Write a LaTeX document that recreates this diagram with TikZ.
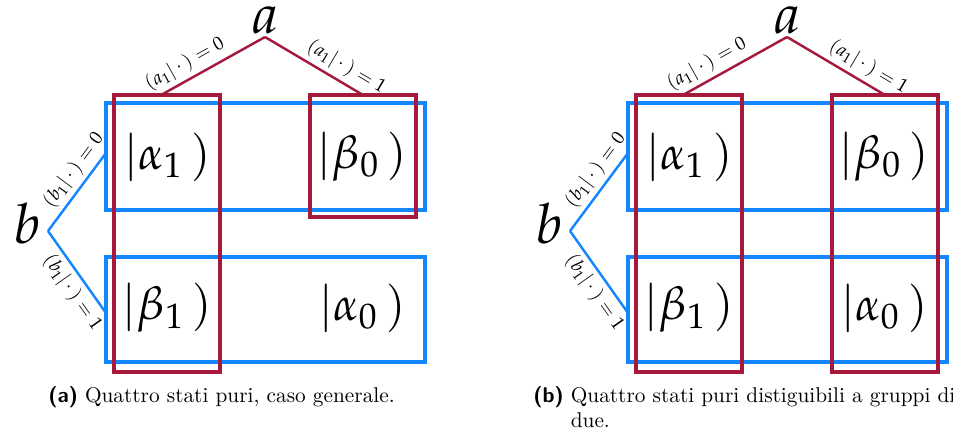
\documentclass[tikz,border=0pt]{standalone}
\usepackage{mathpazo}
\usepackage{fontspec}
\usepackage{xcolor}
\usetikzlibrary{positioning}
\definecolor{branchred}{RGB}{165,25,60}
\definecolor{branchblue}{RGB}{20,135,255}

\begin{document}
\begin{tikzpicture}[
		x=0.45pt,y=-0.45pt,
		red box/.style={draw=branchred,line width=1.8pt},
		blue box/.style={draw=branchblue,line width=1.8pt},
		red branch/.style={draw=branchred,line width=1.1pt},
		blue branch/.style={draw=branchblue,line width=1.1pt},
		ket/.style={font=\fontsize{21}{24}\selectfont,inner sep=0pt},
		party/.style={font=\fontsize{25}{28}\selectfont,inner sep=0pt,anchor=base},
		edge label/.style={font=\fontsize{8.5}{10}\selectfont,sloped,inner sep=2pt},
		caption text/.style={font=\fontsize{9.6}{11.5}\selectfont,inner sep=0pt,anchor=base west,align=left}
	]
		\useasboundingbox (0,0) rectangle (953,434);

		% Both panels share the two measurements and the four states.
		\foreach \p/\dx in {A/0,B/522}{
			\begin{scope}[shift={(\dx,0)}]
				\node[party] (a\p) at (265,33) {$a$};
				\node[party] (b\p) at (27,243) {$b$};
				\coordinate (ra\p) at (265,37);
				\coordinate (rb\p) at (48,231);
				\coordinate (tl\p) at (161,95);
				\coordinate (tr\p) at (363,95);
				\coordinate (bt\p) at (106,153);
				\coordinate (bb\p) at (106,313);

				% Outcomes of b group the rows.
				\draw[blue box] (106,103) rectangle (425,210);
				\draw[blue box] (106,257) rectangle (425,362);
				\draw[blue branch] (rb\p) -- node[edge label,above,pos=0.66]
					{$(b_1|\,\cdot\,)=0$} (bt\p);
				\draw[blue branch] (rb\p) -- node[edge label,below,pos=0.64]
					{$(b_1|\,\cdot\,)=1$} (bb\p);

				% Outcomes of a group the columns.
				\draw[red box] (114,95) rectangle (220,372);
				\draw[red branch] (tl\p) -- node[edge label,above,pos=0.3]
					{$(a_1|\,\cdot\,)=0$} (ra\p);
				\draw[red branch] (ra\p) -- node[edge label,above,pos=0.75]
					{$(a_1|\,\cdot\,)=1$} (tr\p);

				\node[ket] (alpha1\p) at (167,157) {$|\alpha_1\,)$};
				\node[ket] (beta0\p) at (362,157) {$|\beta_0\,)$};
				\node[ket] (beta1\p) at (167,308) {$|\beta_1\,)$};
				\node[ket] (alpha0\p) at (362,308) {$|\alpha_0\,)$};
			\end{scope}
		}

		% General case: only the upper right state is singled out.
		\draw[red box] (310,95) rectangle (416,217);
		\node[caption text] (capA) at (48,402)
			{\textsf{\bfseries (a)} Quattro stati puri, caso generale.};

		% Distinguishable in pairs: the second column is a full group.
		\draw[red box] (832,95) rectangle (938,372);
		\node[caption text] (capB) at (533,402)
			{\textsf{\bfseries (b)} \begin{tabular}[t]{@{}l@{}}Quattro stati puri distiguibili a gruppi di\\due.\end{tabular}};
	\end{tikzpicture}
\end{document}
